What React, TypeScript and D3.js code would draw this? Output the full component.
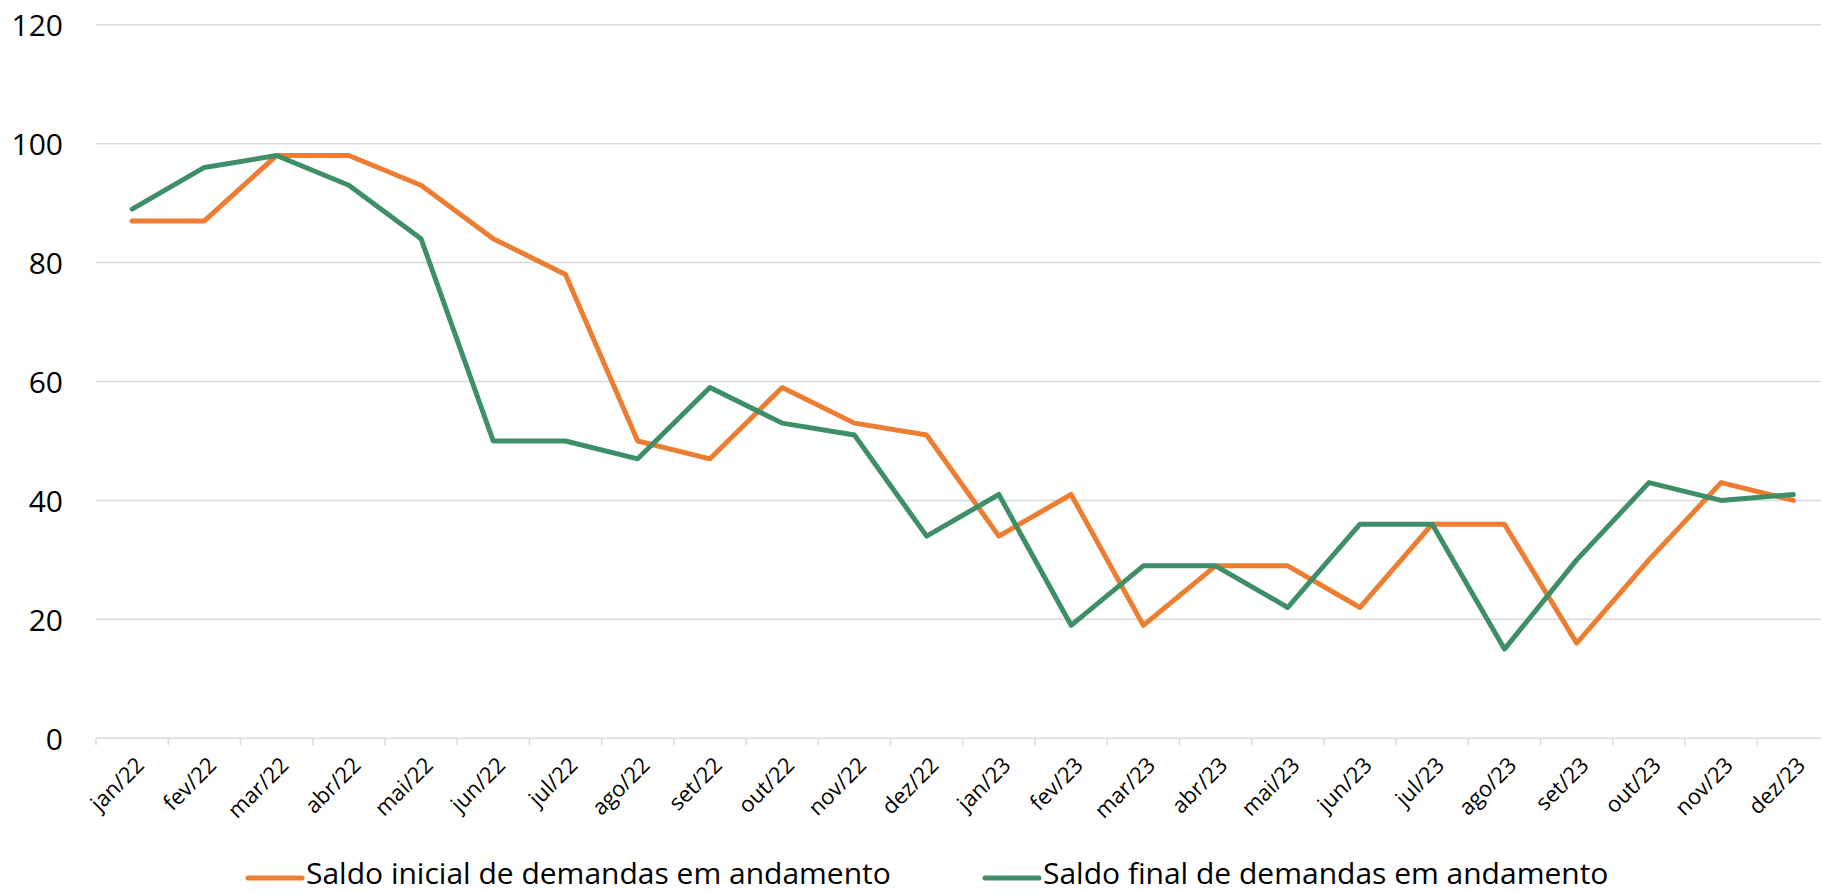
import React from "react";
import * as d3 from "d3";

const categories = [
  "jan/22", "fev/22", "mar/22", "abr/22", "mai/22", "jun/22", "jul/22", "ago/22", "set/22", "out/22", "nov/22", "dez/22",
  "jan/23", "fev/23", "mar/23", "abr/23", "mai/23", "jun/23", "jul/23", "ago/23", "set/23", "out/23", "nov/23", "dez/23",
];
const saldoInicial = [87, 87, 98, 98, 93, 84, 78, 50, 47, 59, 53, 51, 34, 41, 19, 29, 29, 22, 36, 36, 16, 30, 43, 40];
const saldoFinal = [89, 96, 98, 93, 84, 50, 50, 47, 59, 53, 51, 34, 41, 19, 29, 29, 22, 36, 36, 15, 30, 43, 40, 41];
const yTicks = [0, 20, 40, 60, 80, 100, 120];
const seriesNames = ["Saldo inicial de demandas em andamento", "Saldo final de demandas em andamento"];
const seriesColors = ["#ED7D31", "#3E8E68"];

const W = 1821;
const H = 893;
const FONT = "'Open Sans', 'Noto Sans', sans-serif";

export default function App() {
  const x = d3.scaleBand<string>().domain(categories).range([96, 1829.5]).padding(0);
  const y = d3.scaleLinear().domain([0, 120]).range([738.3, 24.7]);
  const cx = (c: string) => (x(c) as number) + x.bandwidth() / 2;
  const line = d3
    .line<number>()
    .x((_, i) => cx(categories[i]))
    .y((d) => y(d));
  const series = [saldoInicial, saldoFinal];
  const boundaries = d3.range(categories.length + 1).map((i) => 96 + i * x.bandwidth());

  return (
    <svg
      width={W}
      height={H}
      style={{ position: "absolute", left: 0, top: 0, background: "#fff" }}
      fontFamily={FONT}
    >
      {yTicks.map((t) => (
        <g key={t}>
          <line x1={96} x2={W} y1={y(t)} y2={y(t)} stroke="#d9d9d9" strokeWidth={1.5} />
          <text x={63} y={y(t)} textAnchor="end" dominantBaseline="central" fontSize={30} fill="#000">
            {t}
          </text>
        </g>
      ))}
      {boundaries.map((b, i) => (
        <line key={i} x1={b} x2={b} y1={y(0)} y2={y(0) + 7} stroke="#d9d9d9" strokeWidth={1.5} />
      ))}
      {categories.map((c) => (
        <text
          key={c}
          transform={`translate(${cx(c) + 7},${y(0) + 22}) rotate(-45)`}
          textAnchor="end"
          dominantBaseline="central"
          fontSize={22}
          fill="#000"
        >
          {c}
        </text>
      ))}
      {series.map((s, i) => (
        <path
          key={i}
          d={line(s) as string}
          fill="none"
          stroke={seriesColors[i]}
          strokeWidth={5}
          strokeLinejoin="round"
          strokeLinecap="round"
        />
      ))}
      {seriesNames.map((n, i) => {
        const lx = i === 0 ? 248 : 985;
        return (
          <g key={n}>
            <line x1={lx} x2={lx + 54} y1={878} y2={878} stroke={seriesColors[i]} strokeWidth={5} strokeLinecap="round" />
            <text x={lx + 58} y={884} fontSize={30} fill="#000">
              {n}
            </text>
          </g>
        );
      })}
    </svg>
  );
}
